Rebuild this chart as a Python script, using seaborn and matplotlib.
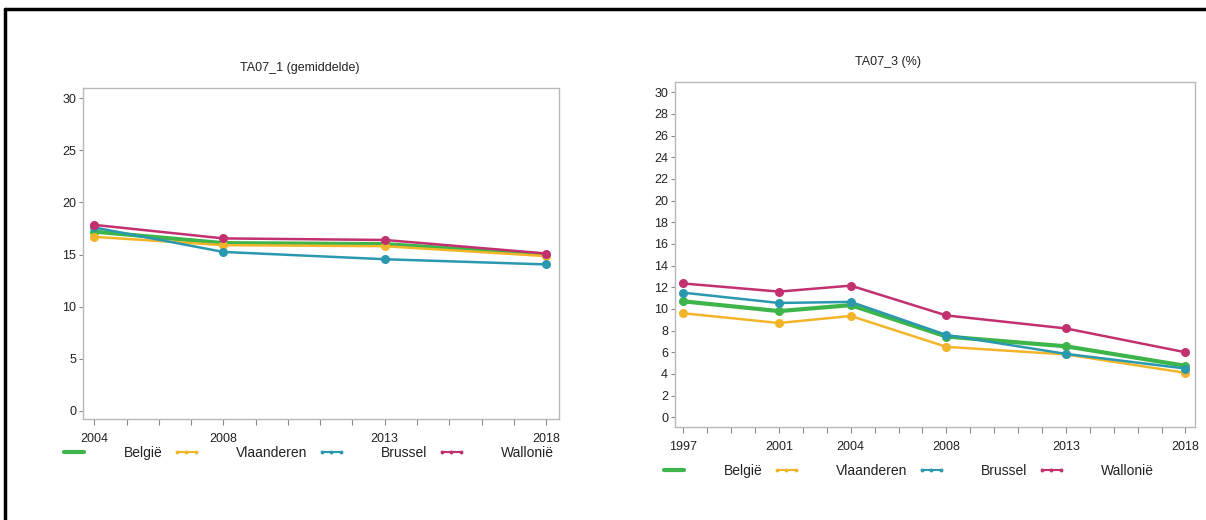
import numpy as np
import pandas as pd
import matplotlib
matplotlib.use("Agg")
import matplotlib.pyplot as plt
import seaborn as sns
from matplotlib.lines import Line2D
from matplotlib.ticker import MultipleLocator

sns.set_theme(style="white")
plt.rcParams['font.family'] = ['Liberation Sans', 'DejaVu Sans']

regions = ["België", "Vlaanderen", "Brussel", "Wallonië"]
colors = ["#3db54a", "#f2b52a", "#2a98ae", "#c2306f"]

years_1 = [2004, 2008, 2013, 2018]
belgie_1 = [17.2, 16.1, 16.0, 15.0]
vlaanderen_1 = [16.7, 15.9, 15.8, 14.85]
brussel_1 = [17.6, 15.25, 14.55, 14.05]
wallonie_1 = [17.85, 16.55, 16.4, 15.1]

years_3 = [1997, 2001, 2004, 2008, 2013, 2018]
belgie_3 = [10.7, 9.8, 10.35, 7.45, 6.55, 4.75]
vlaanderen_3 = [9.6, 8.7, 9.35, 6.5, 5.8, 4.1]
brussel_3 = [11.5, 10.55, 10.65, 7.6, 5.85, 4.5]
wallonie_3 = [12.35, 11.6, 12.15, 9.4, 8.2, 6.0]

title_1 = "TA07_1 (gemiddelde)"
title_3 = "TA07_3 (%)"


def make_df(years, series):
    rows = []
    for name, vals in zip(regions, series):
        for y, v in zip(years, vals):
            rows.append({"jaar": y, "waarde": v, "regio": name})
    return pd.DataFrame(rows)


df1 = make_df(years_1, [belgie_1, vlaanderen_1, brussel_1, wallonie_1])
df3 = make_df(years_3, [belgie_3, vlaanderen_3, brussel_3, wallonie_3])

W, H = 1206, 520
fig = plt.figure(figsize=(W / 100, H / 100), dpi=100)

ax1 = fig.add_axes([83 / W, 1 - 419 / H, 476 / W, 331 / H])
ax3 = fig.add_axes([675 / W, 1 - 427 / H, 520 / W, 345 / H])

palette = dict(zip(regions, colors))
widths = {"België": 3.0, "Vlaanderen": 1.8, "Brussel": 1.8, "Wallonië": 1.8}


def draw(ax, df, years, ylim, ystep):
    for name in regions:
        sub = df[df.regio == name]
        sns.lineplot(data=sub, x="jaar", y="waarde", color=palette[name],
                     marker="o", markersize=6.5, markeredgewidth=0,
                     linewidth=widths[name], ax=ax, legend=False)
    ax.set_xlim(years[0] - 0.35, years[-1] + 0.4)
    ax.set_ylim(*ylim)
    ax.set_xticks(years)
    ax.set_xticklabels([str(y) for y in years])
    ax.xaxis.set_minor_locator(MultipleLocator(1))
    ax.yaxis.set_major_locator(MultipleLocator(ystep))
    ax.set_xlabel("")
    ax.set_ylabel("")
    for s in ax.spines.values():
        s.set_color("#b8b8b8")
        s.set_linewidth(1.0)
        s.set_visible(True)
    ax.tick_params(axis="both", which="both", direction="out", colors="#8a8a8a",
                   labelcolor="#222222", labelsize=9, bottom=True, left=True,
                   top=False, right=False)
    ax.tick_params(axis="x", which="major", length=4, width=0.8, pad=6)
    ax.tick_params(axis="x", which="minor", length=4, width=0.8)
    ax.tick_params(axis="y", which="major", length=3, width=0.8, pad=2)
    ax.grid(False)


draw(ax1, df1, years_1, (-0.8, 31.0), 5)
draw(ax3, df3, years_3, (-0.9, 30.95), 2)

fig.text(300 / W, 1 - 68 / H, title_1, ha="center", va="center", fontsize=9, color="#222222")
fig.text(888 / W, 1 - 62 / H, title_3, ha="center", va="center", fontsize=9, color="#222222")

handles = []
for name in regions:
    if name == "België":
        handles.append(Line2D([], [], color=palette[name], linewidth=3.0))
    else:
        handles.append(Line2D([], [], color=palette[name], linewidth=1.5,
                              marker="o", markersize=2.8, markeredgewidth=0))


def legend_at(x_frac, y_frac):
    leg = fig.legend(handles=handles, labels=regions, ncol=4, loc="center left",
                     bbox_to_anchor=(x_frac, y_frac), frameon=False, fontsize=10,
                     handlelength=2.0, handletextpad=2.6, columnspacing=0.7,
                     numpoints=3, borderpad=0, borderaxespad=0)
    for t in leg.get_texts():
        t.set_color("#222222")
    return leg


legend_at(60 / W, 1 - 453 / H)
legend_at(660 / W, 1 - 471 / H)

# outer border (top and left edges)
fig.add_artist(Line2D([5 / W, 1.0], [1 - 9 / H, 1 - 9 / H], color="black", linewidth=2.5,
                      transform=fig.transFigure))
fig.add_artist(Line2D([5 / W, 5 / W], [0.0, 1 - 9 / H], color="black", linewidth=2.5,
                      transform=fig.transFigure))

fig.savefig("out.png", dpi=100)
